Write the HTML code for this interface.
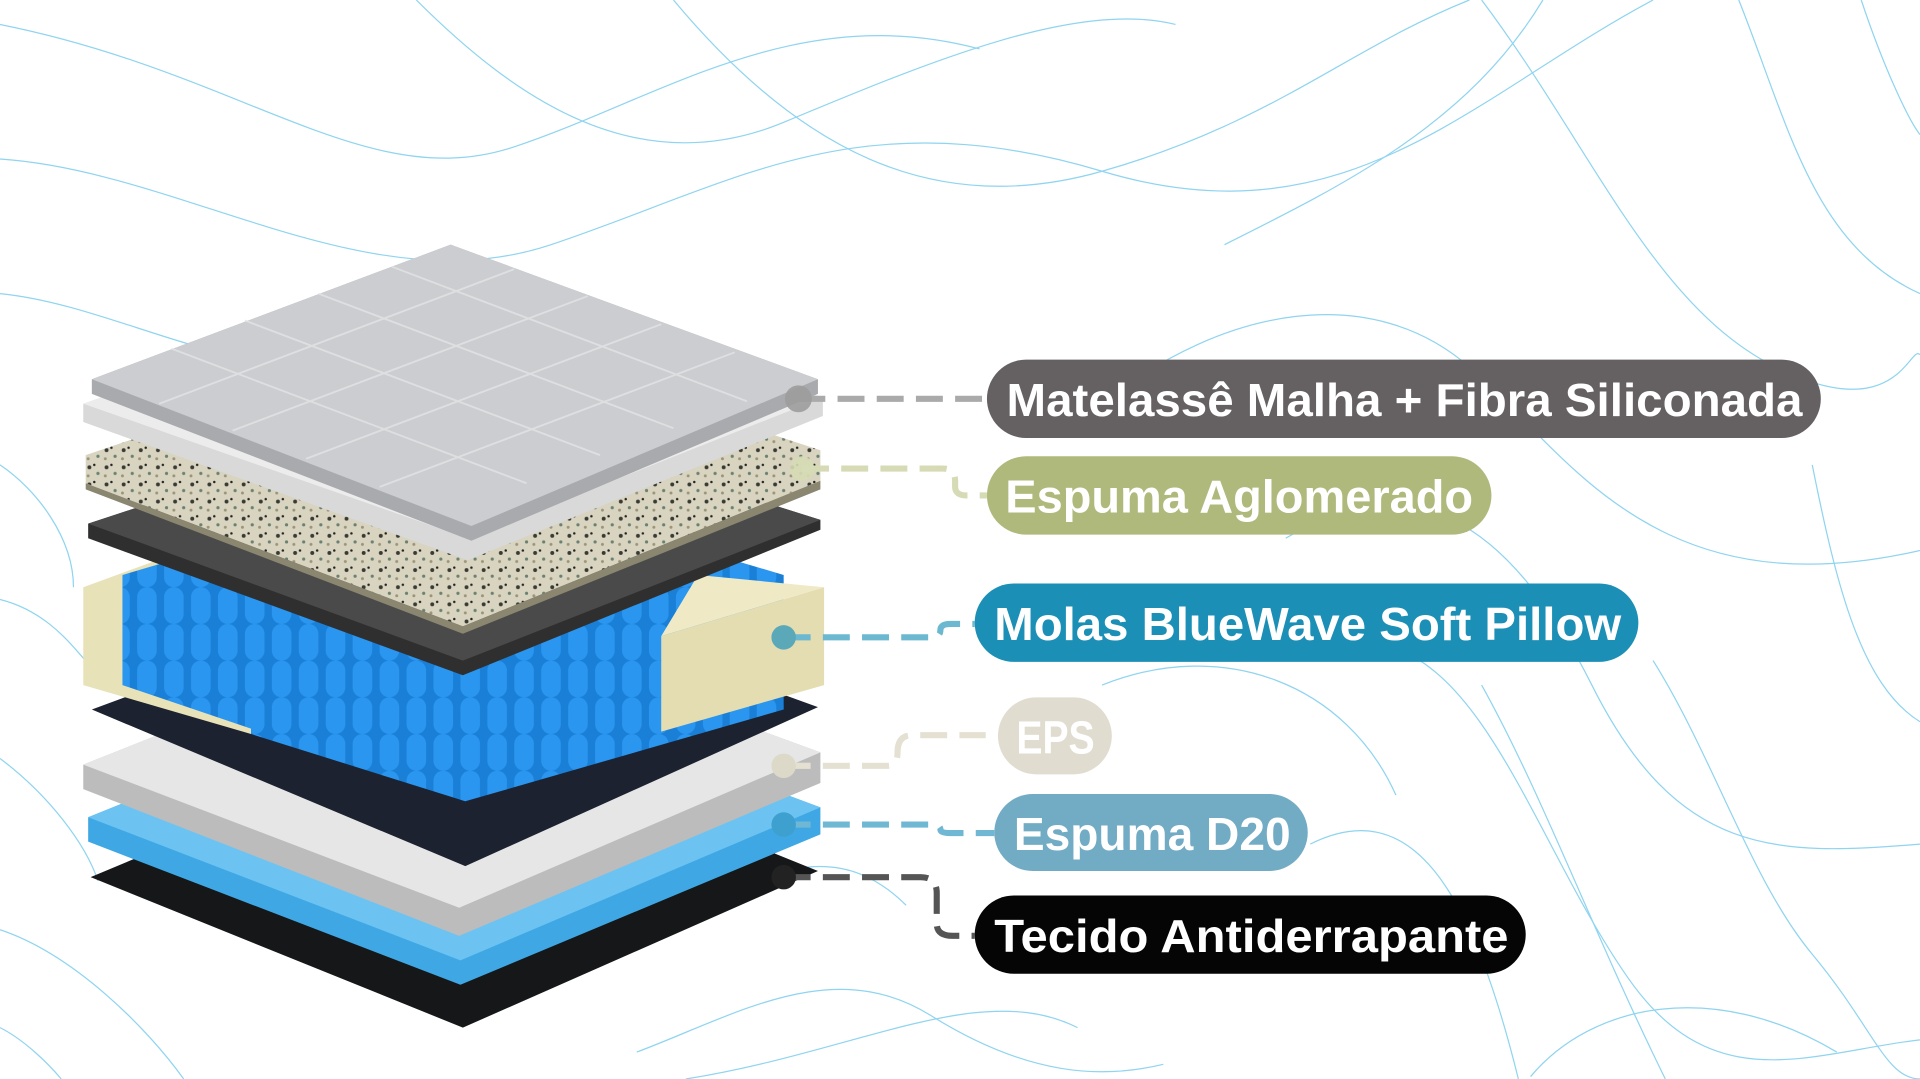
<!DOCTYPE html>
<html><head><meta charset="utf-8"><style>
html,body{margin:0;padding:0;background:#fff;overflow:hidden}
svg{display:block}
text{font-family:"Liberation Sans",sans-serif;font-weight:bold;fill:#fff}
</style></head><body>
<svg width="1920" height="1079" viewBox="0 0 1568 882" preserveAspectRatio="none">
<defs>
<pattern id="spk" width="14" height="14" patternUnits="userSpaceOnUse">
<rect width="14" height="14" fill="#d8d4c0"/>
<circle cx="3" cy="4" r="1.6" fill="#3a3a34"/><circle cx="10" cy="9" r="1.3" fill="#6a8070"/>
<circle cx="7" cy="2" r="1" fill="#222"/><circle cx="2" cy="11" r="1.2" fill="#9a9478"/>
</pattern>
<pattern id="spr" width="22" height="30" patternUnits="userSpaceOnUse">
<rect width="22" height="30" fill="#1a7fd6"/><rect x="2" width="16" height="30" rx="8" fill="#2a96f0"/>
</pattern>
</defs>
<g fill="none" stroke="#8fd4f0" stroke-width="1">
<path d="M0 20 C200 60 300 160 420 120 S650 0 800 40"/>
<path d="M0 130 C150 140 300 250 450 200 S700 80 900 140 S1200 80 1350 0"/>
<path d="M340 0 C420 80 520 150 640 100 S880 0 960 20"/>
<path d="M550 0 C650 120 760 180 900 140 S1100 40 1200 0"/>
<path d="M0 240 C100 250 200 320 300 290"/>
<path d="M900 330 C1000 250 1120 230 1200 300 S1350 500 1568 450"/>
<path d="M1210 0 C1300 120 1350 250 1450 300 S1560 280 1568 290"/>
<path d="M1420 0 C1460 100 1480 200 1568 240"/>
<path d="M1520 0 C1540 60 1560 100 1568 110"/>
<path d="M1000 200 C1100 150 1200 100 1260 0"/>
<path d="M1050 440 C1150 380 1230 420 1300 560 S1450 700 1568 690"/>
<path d="M1140 530 C1220 560 1260 700 1330 800 S1480 860 1568 850"/>
<path d="M1350 540 C1400 620 1430 720 1480 780 S1540 882 1568 882"/>
<path d="M1480 380 C1500 480 1520 560 1568 590"/>
<path d="M900 560 C1000 520 1100 560 1140 650"/>
<path d="M1070 690 C1150 650 1200 720 1240 882"/>
<path d="M1210 560 C1260 650 1300 760 1360 882"/>
<path d="M0 380 C30 400 60 440 60 480"/>
<path d="M0 490 C40 500 60 530 70 540"/>
<path d="M0 620 C40 650 70 690 80 720"/>
<path d="M0 760 C60 780 120 840 150 882"/>
<path d="M0 840 C20 850 40 870 50 882"/>
<path d="M520 860 C600 830 680 780 760 830 S900 882 950 870"/>
<path d="M560 740 C620 720 680 680 740 740"/>
<path d="M560 882 C700 860 800 800 880 840"/>
<path d="M1250 880 C1300 820 1400 800 1500 860"/>
</g>
<!-- bottom black -->
<polygon points="74,717 372,592 668,712 378,840" fill="#151719"/>
<!-- D20 blue -->
<polygon points="72,668 370,548 670,660 670,682 376,805 72,688" fill="#3fa8e4"/>
<polygon points="72,668 370,548 670,660 376,785" fill="#6cc3f2"/>
<!-- EPS white -->
<polygon points="68,625 370,505 670,615 670,640 375,765 68,645" fill="#bcbcbc"/>
<polygon points="68,625 370,505 670,615 375,742" fill="#e6e6e6"/>
<!-- dark navy -->
<polygon points="75,580 370,470 668,578 380,708" fill="#1c2230"/>
<!-- spring unit -->
<polygon points="68,480 205,430 205,600 68,560" fill="#e8e2b8"/>
<polygon points="100,470 370,390 640,470 640,580 380,655 100,560" fill="url(#spr)"/>
<polygon points="205,530 205,600 380,655 380,570" fill="url(#spr)"/>
<polygon points="540,520 673,480 673,560 540,598" fill="#e4ddb2"/>
<polygon points="540,520 570,470 673,480" fill="#efe9c6"/>
<!-- gray felt -->
<polygon points="72,428 370,330 670,425 670,433 378,552 72,440" fill="#2f2f2f"/>
<polygon points="72,428 370,330 670,425 378,540" fill="#4a4a4a"/>
<!-- aglomerado -->
<polygon points="70,372 370,270 670,368 670,393 378,512 70,395" fill="url(#spk)"/>
<polygon points="70,395 378,512 670,393 670,400 378,518 70,400" fill="#8a8670"/>
<!-- fiber -->
<polygon points="68,330 370,225 672,325 672,340 382,458 68,345" fill="#d9d9d9"/>
<polygon points="68,330 370,225 672,325 382,440" fill="#ececec"/>
<!-- top quilt -->
<polygon points="75,310 368,200 668,310 668,322 385,442 75,322" fill="#a8aaad"/>
<polygon points="75,310 368,200 668,310 385,430" fill="#cbcdd0"/>
<g fill="none" stroke="#e3e4e6" stroke-width="1.5" opacity=".8">
<path d="M140 285 L430 395 M200 262 L490 372 M260 240 L550 350 M320 218 L610 328"/>
<path d="M130 330 L420 220 M190 352 L480 242 M250 375 L540 265 M310 398 L600 288"/>
</g>
<!-- connectors -->
<g fill="none" stroke-width="5" stroke-dasharray="22 10">
<path d="M652 326 H806" stroke="#aaaaaa"/>
<path d="M655 383 H770 Q780 383 780 393 V398 Q780 405 790 405 H806" stroke="#d6dbb5"/>
<path d="M640 521 H760 Q768 521 768 515 Q768 510 776 510 H796" stroke="#6bb8d0"/>
<path d="M640 626 H725 Q733 626 733 615 Q733 601 745 601 H805" stroke="#e4e1d3"/>
<path d="M640 674 H760 Q768 674 768 678 Q768 681 776 681 H812" stroke="#6fb7d3"/>
<path d="M640 717 H752 Q765 717 765 730 V755 Q765 765 778 765 H796" stroke="#555555"/>
</g>
<circle cx="652" cy="326" r="11" fill="#9c9c9c" opacity=".9"/>
<circle cx="655" cy="383" r="10" fill="#d6dbb5" opacity=".9"/>
<circle cx="640" cy="521" r="10" fill="#5aa8b8"/>
<circle cx="640" cy="626" r="10" fill="#ddd9c8"/>
<circle cx="640" cy="674" r="10" fill="#3ea0cf"/>
<circle cx="640" cy="717" r="10" fill="#222"/>
<!-- labels -->
<rect x="806" y="294" width="681" height="64" rx="32" fill="#656062"/>
<text x="822" y="340" font-size="38" textLength="650" lengthAdjust="spacingAndGlyphs">Matelassê Malha + Fibra Siliconada</text>
<rect x="806" y="373" width="412" height="64" rx="32" fill="#afb97c"/>
<text x="821" y="419" font-size="38" textLength="382" lengthAdjust="spacingAndGlyphs">Espuma Aglomerado</text>
<rect x="796" y="477" width="542" height="64" rx="32" fill="#1b8fb5"/>
<text x="812" y="523" font-size="38" textLength="512" lengthAdjust="spacingAndGlyphs">Molas BlueWave Soft Pillow</text>
<rect x="815" y="570" width="93" height="63" rx="31.5" fill="#e0ddd0"/>
<text x="830" y="616" font-size="38" textLength="64" lengthAdjust="spacingAndGlyphs">EPS</text>
<rect x="812" y="649" width="256" height="63" rx="31.5" fill="#72abc4"/>
<text x="828" y="695" font-size="38" textLength="226" lengthAdjust="spacingAndGlyphs">Espuma D20</text>
<rect x="796" y="732" width="450" height="64" rx="32" fill="#050505"/>
<text x="812" y="778" font-size="38" textLength="420" lengthAdjust="spacingAndGlyphs">Tecido Antiderrapante</text>
</svg>
</body></html>
